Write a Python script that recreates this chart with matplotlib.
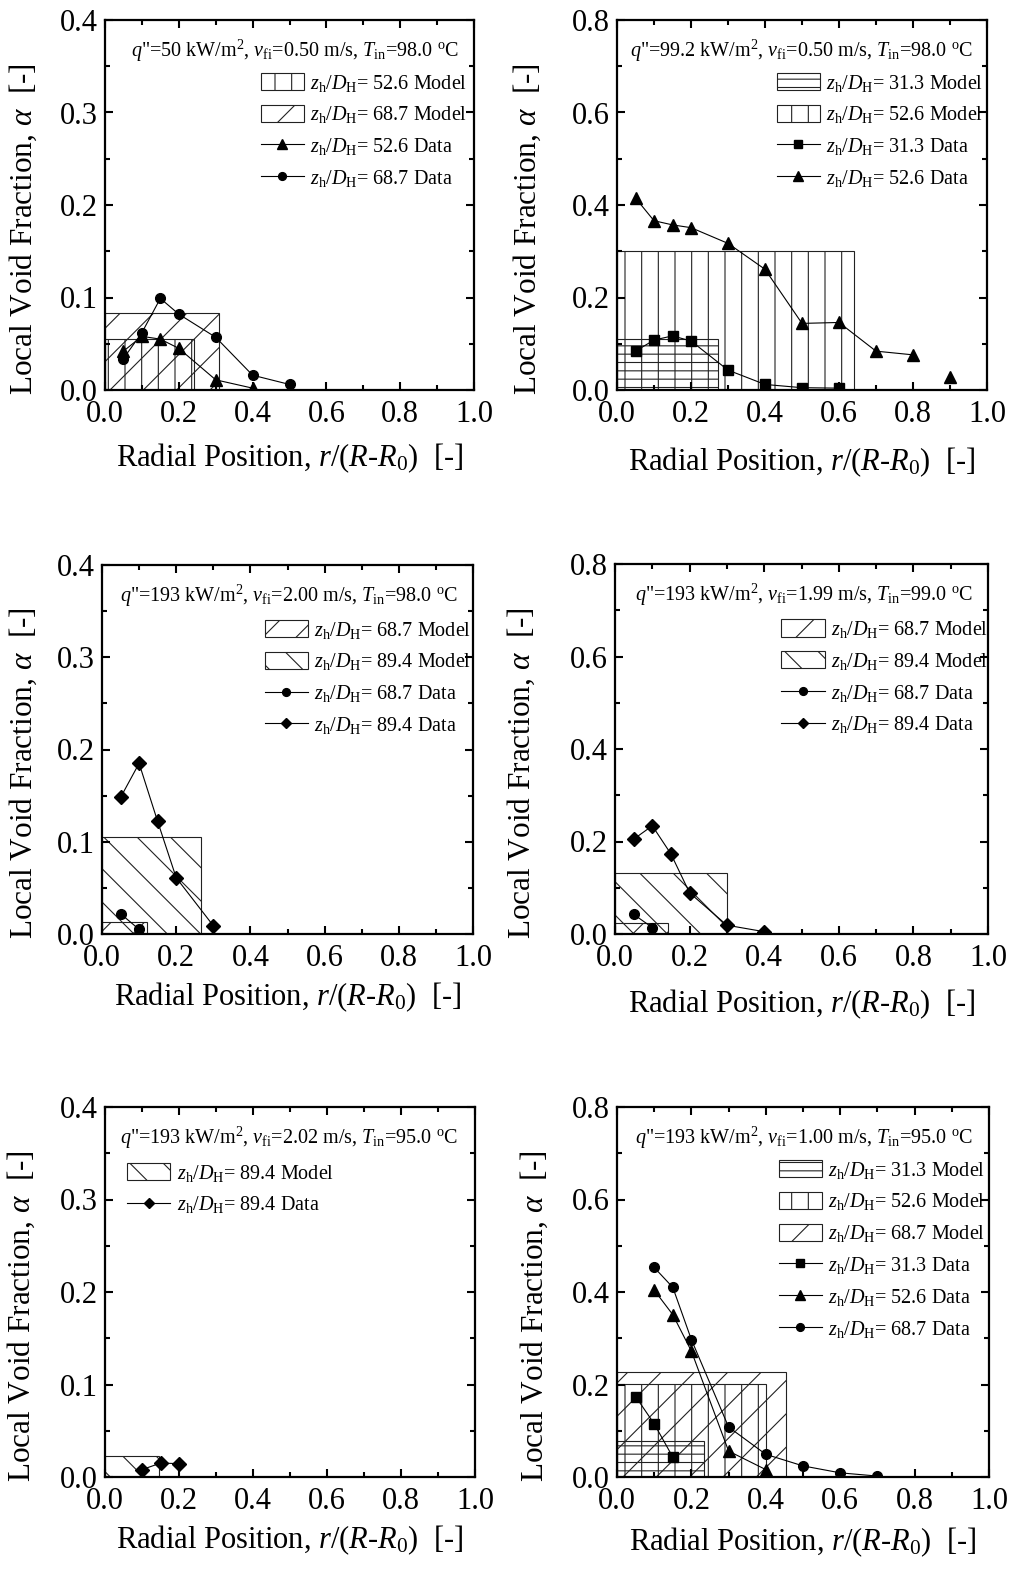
import matplotlib
matplotlib.use("Agg")
import matplotlib.pyplot as plt
from matplotlib.ticker import MultipleLocator

plt.rcParams['font.family'] = ['Liberation Serif', 'DejaVu Serif']
plt.rcParams['mathtext.fontset'] = 'custom'
plt.rcParams['mathtext.rm'] = 'Liberation Serif'
plt.rcParams['mathtext.it'] = 'Liberation Serif:italic'
plt.rcParams['mathtext.bf'] = 'Liberation Serif:bold'
plt.rcParams['hatch.linewidth'] = 0.8

# ---- panel (a): q"=50 kW/m2, v=0.50 m/s, T=98.0 C
a_cond = ['50', '0.50', '98.0']
a_model_zh = [52.6, 68.7]
a_model_r = [0.24, 0.31]
a_model_alpha = [0.055, 0.083]
a_data_zh = [52.6, 68.7]
a_r_526 = [0.05, 0.10, 0.15, 0.20, 0.30, 0.40]
a_alpha_526 = [0.042, 0.058, 0.055, 0.045, 0.011, 0.002]
a_r_687 = [0.05, 0.10, 0.15, 0.20, 0.30, 0.40, 0.50]
a_alpha_687 = [0.034, 0.062, 0.099, 0.082, 0.057, 0.016, 0.006]

# ---- panel (b): q"=99.2 kW/m2, v=0.50 m/s, T=98.0 C
b_cond = ['99.2', '0.50', '98.0']
b_model_zh = [31.3, 52.6]
b_model_r = [0.274, 0.64]
b_model_alpha = [0.11, 0.30]
b_data_zh = [31.3, 52.6]
b_r_313 = [0.05, 0.10, 0.15, 0.20, 0.30, 0.40, 0.50, 0.60]
b_alpha_313 = [0.084, 0.108, 0.117, 0.106, 0.043, 0.012, 0.005, 0.004]
b_r_526 = [0.05, 0.10, 0.15, 0.20, 0.30, 0.40, 0.50, 0.60, 0.70, 0.80, 0.90]
b_alpha_526 = [0.415, 0.366, 0.357, 0.351, 0.317, 0.261, 0.144, 0.146, 0.084, 0.076, 0.029]

# ---- panel (c): q"=193 kW/m2, v=2.00 m/s, T=98.0 C
c_cond = ['193', '2.00', '98.0']
c_model_zh = [68.7, 89.4]
c_model_r = [0.121, 0.267]
c_model_alpha = [0.0134, 0.1055]
c_data_zh = [68.7, 89.4]
c_r_687 = [0.05, 0.10]
c_alpha_687 = [0.022, 0.005]
c_r_894 = [0.05, 0.10, 0.15, 0.20, 0.30]
c_alpha_894 = [0.148, 0.185, 0.122, 0.061, 0.009]

# ---- panel (d): q"=193 kW/m2, v=1.99 m/s, T=99.0 C
d_cond = ['193', '1.99', '99.0']
d_model_zh = [68.7, 89.4]
d_model_r = [0.143, 0.301]
d_model_alpha = [0.023, 0.131]
d_data_zh = [68.7, 89.4]
d_r_687 = [0.05, 0.10]
d_alpha_687 = [0.0425, 0.014]
d_r_894 = [0.05, 0.10, 0.15, 0.20, 0.30, 0.40]
d_alpha_894 = [0.205, 0.234, 0.173, 0.089, 0.019, 0.005]

# ---- panel (e): q"=193 kW/m2, v=2.02 m/s, T=95.0 C
e_cond = ['193', '2.02', '95.0']
e_model_zh = [89.4]
e_model_r = [0.146]
e_model_alpha = [0.0227]
e_data_zh = [89.4]
e_r_894 = [0.10, 0.15, 0.20]
e_alpha_894 = [0.008, 0.015, 0.0145]

# ---- panel (f): q"=193 kW/m2, v=1.00 m/s, T=95.0 C
f_cond = ['193', '1.00', '95.0']
f_model_zh = [31.3, 52.6, 68.7]
f_model_r = [0.234, 0.40, 0.453]
f_model_alpha = [0.077, 0.202, 0.227]
f_data_zh = [31.3, 52.6, 68.7]
f_r_313 = [0.05, 0.10, 0.15]
f_alpha_313 = [0.174, 0.115, 0.043]
f_r_526 = [0.10, 0.15, 0.20, 0.30, 0.40]
f_alpha_526 = [0.404, 0.351, 0.272, 0.056, 0.016]
f_r_687 = [0.10, 0.15, 0.20, 0.30, 0.40, 0.50, 0.60, 0.70]
f_alpha_687 = [0.453, 0.41, 0.297, 0.108, 0.049, 0.024, 0.009, 0.002]

hatches = {31.3: '--', 52.6: '|', 68.7: '/', 89.4: '\\'}
markers = {31.3: ('s', 6.5), 52.6: ('^', 8.5), 68.7: ('o', 7), 89.4: ('D', 7)}

W, H = 1009, 1572
fig = plt.figure(figsize=(W / 100, H / 100), dpi=100)


def make_axes(left, top, right, bottom):
    return fig.add_axes([left / W, 1 - bottom / H, (right - left) / W, (bottom - top) / H])


def draw_panel(ax, cond, ymax, model_zh, model_r, model_alpha, data_zh, data_r, data_alpha,
               ylab_x, xlab_y, leg_loc, leg_anchor, note_x, unlinked=()):
    handles = []
    for zh, r, a in zip(model_zh, model_r, model_alpha):
        bars = ax.bar(0, a, width=r, align='edge', fill=False, hatch=hatches[zh],
                      edgecolor='#222222', linewidth=0.8, zorder=1)
        handles.append((bars.patches[0], r'$z_{\rm h}/D_{\rm H}$= %.1f Model' % zh))
    for i, (zh, r, a) in enumerate(zip(data_zh, data_r, data_alpha)):
        m, ms = markers[zh]
        n = len(r) - 1 if i in unlinked else len(r)
        ax.plot(r[:n], a[:n], '-', color='black', lw=0.8, zorder=2)
        ax.plot(r, a, ls='none', marker=m, ms=ms, color='black', zorder=3)
        proxy, = ax.plot([], [], '-', color='black', lw=0.8, marker=m, ms=ms * 0.8)
        handles.append((proxy, r'$z_{\rm h}/D_{\rm H}$= %.1f Data' % zh))

    ax.set_xlim(0, 1.0)
    ax.set_ylim(0, ymax)
    ax.xaxis.set_major_locator(MultipleLocator(0.2))
    ax.xaxis.set_minor_locator(MultipleLocator(0.1))
    step = 0.1 if ymax < 0.5 else 0.2
    ax.yaxis.set_major_locator(MultipleLocator(step))
    ax.yaxis.set_minor_locator(MultipleLocator(step / 2))
    ax.xaxis.set_major_formatter(plt.FormatStrFormatter('%.1f'))
    ax.yaxis.set_major_formatter(plt.FormatStrFormatter('%.1f'))
    ax.tick_params(which='both', direction='in', top=True, right=True, labelsize=22, width=1.5)
    ax.tick_params(which='major', length=6)
    ax.tick_params(which='minor', length=3.5)
    ax.tick_params(axis='x', pad=7)
    ax.tick_params(axis='y', pad=5)
    for s in ax.spines.values():
        s.set_linewidth(1.6)

    ax.set_xlabel(r'Radial Position, $r$/($R$-$R_{\rm 0}$)  [-]', fontsize=22)
    ax.set_ylabel(r'Local Void Fraction, $\alpha$  [-]', fontsize=22.5)
    ax.xaxis.set_label_coords(0.5, xlab_y)
    ax.yaxis.set_label_coords(ylab_x, 0.435)

    q, v, t = cond
    ax.text(note_x, 0.9,
            r'$q$"=%s kW/m$^2$, $v_{\rm fi}$=%s m/s, $T_{\rm in}$=%s $^{\rm o}$C' % (q, v, t),
            transform=ax.transAxes, ha='right', va='baseline', fontsize=14.5)

    ax.legend([h for h, _ in handles], [l for _, l in handles], loc=leg_loc,
              bbox_to_anchor=leg_anchor, frameon=False, fontsize=14.5, numpoints=1,
              handlelength=2.15, handleheight=0.95, handletextpad=0.3,
              labelspacing=0.54, borderpad=0, borderaxespad=0)


ax1 = make_axes(105, 20, 474, 390)
draw_panel(ax1, a_cond, 0.4, a_model_zh, a_model_r, a_model_alpha, a_data_zh,
           [a_r_526, a_r_687], [a_alpha_526, a_alpha_687],
           -0.18, -0.14, 'upper right', (0.982, 0.858), 0.958)

ax2 = make_axes(617, 20, 987, 390)
draw_panel(ax2, b_cond, 0.8, b_model_zh, b_model_r, b_model_alpha, b_data_zh,
           [b_r_313, b_r_526], [b_alpha_313, b_alpha_526],
           -0.2, -0.15, 'upper right', (0.99, 0.858), 0.962, unlinked=(1,))

ax3 = make_axes(102, 565, 473, 934)
draw_panel(ax3, c_cond, 0.4, c_model_zh, c_model_r, c_model_alpha, c_data_zh,
           [c_r_687, c_r_894], [c_alpha_687, c_alpha_894],
           -0.17, -0.125, 'upper right', (0.995, 0.852), 0.96)

ax4 = make_axes(615, 564, 988, 934)
draw_panel(ax4, d_cond, 0.8, d_model_zh, d_model_r, d_model_alpha, d_data_zh,
           [d_r_687, d_r_894], [d_alpha_687, d_alpha_894],
           -0.21, -0.145, 'upper right', (1.0, 0.852), 0.96)

ax5 = make_axes(105, 1107, 475, 1477)
draw_panel(ax5, e_cond, 0.4, e_model_zh, e_model_r, e_model_alpha, e_data_zh,
           [e_r_894], [e_alpha_894],
           -0.185, -0.125, 'upper left', (0.06, 0.85), 0.954)

ax6 = make_axes(617, 1107, 989, 1477)
draw_panel(ax6, f_cond, 0.8, f_model_zh, f_model_r, f_model_alpha, f_data_zh,
           [f_r_313, f_r_526, f_r_687], [f_alpha_313, f_alpha_526, f_alpha_687],
           -0.18, -0.132, 'upper right', (0.99, 0.858), 0.957)

fig.savefig('out.png', dpi=100)
